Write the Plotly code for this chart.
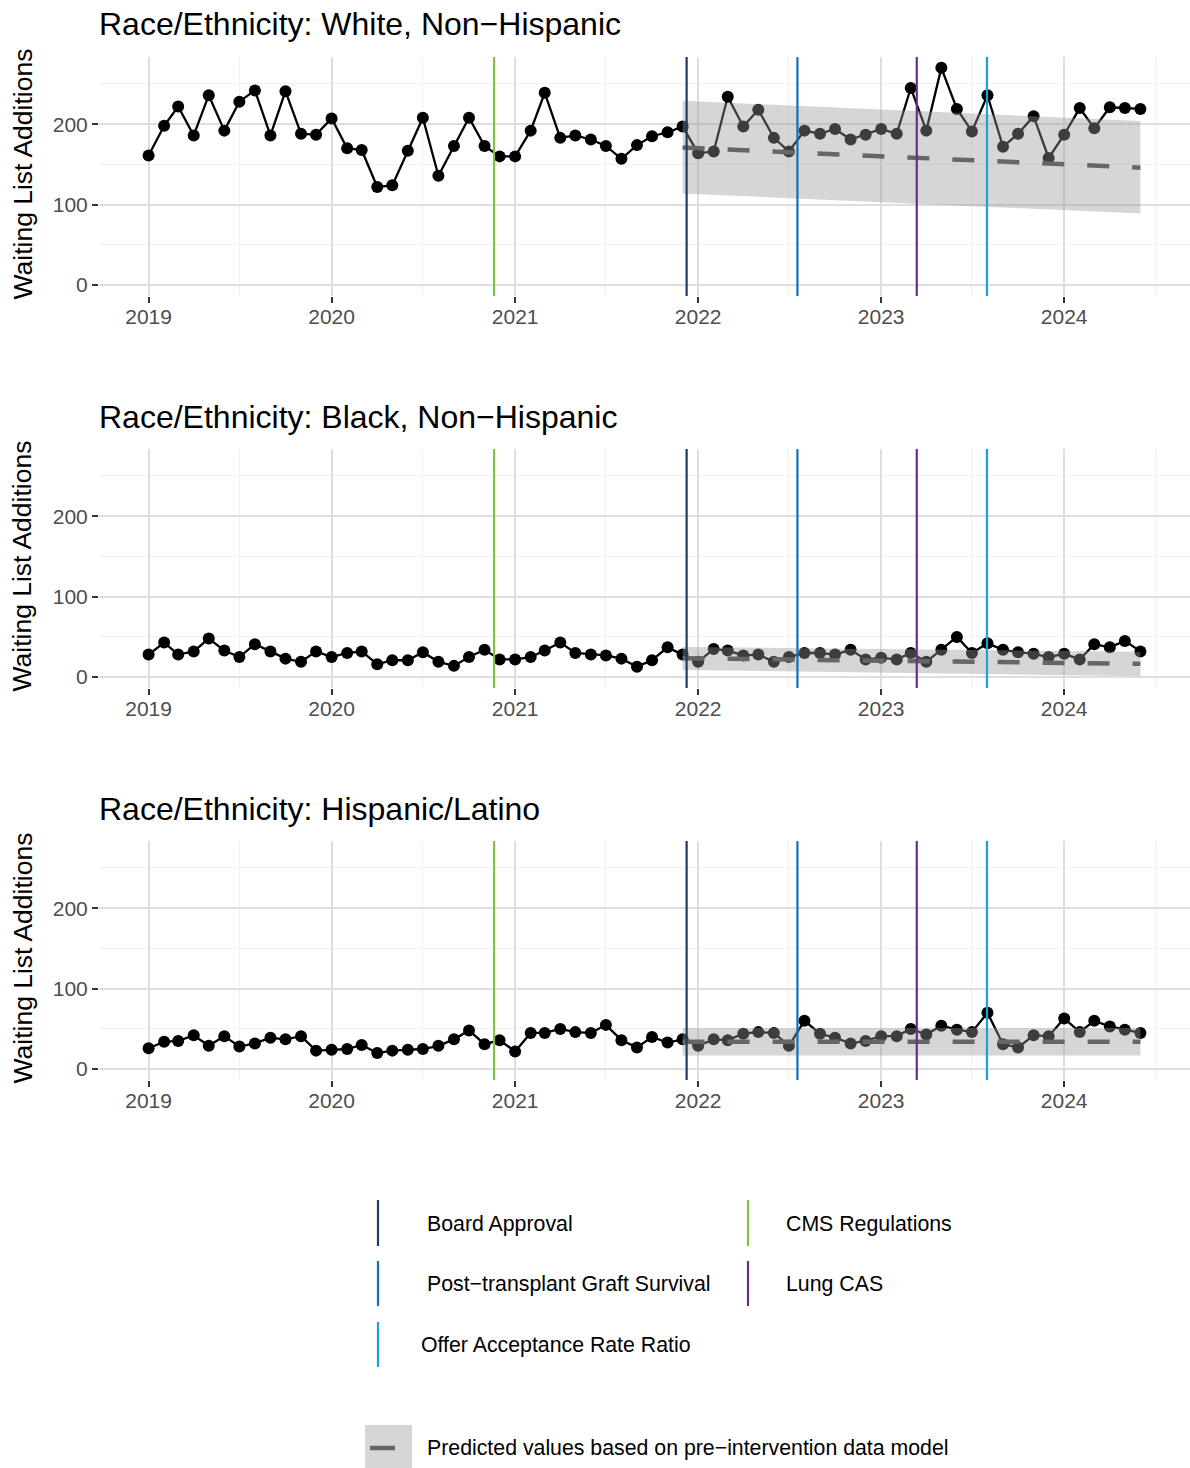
import pandas as pd
import plotly.graph_objects as go

# ---------------- data ----------------
months = pd.date_range("2019-01-01", "2024-06-01", freq="MS")

panel_titles = [
    "Race/Ethnicity: White, Non\u2212Hispanic",
    "Race/Ethnicity: Black, Non\u2212Hispanic",
    "Race/Ethnicity: Hispanic/Latino",
]

white = [161, 198, 222, 186, 236, 192, 228, 242, 186, 241, 188, 187,
         207, 170, 168, 122, 124, 167, 208, 136, 173, 208, 173, 160,
         160, 192, 239, 183, 186, 181, 173, 157, 174, 185, 190, 197,
         164, 166, 234, 197, 218, 183, 166, 192, 188, 194, 181, 187,
         194, 188, 245, 192, 270, 219, 191, 236, 172, 188, 210, 158,
         187, 220, 195, 221, 220, 219]

black = [28, 43, 28, 32, 48, 33, 25, 41, 32, 23, 19, 32,
         25, 30, 32, 16, 21, 21, 31, 19, 14, 25, 34, 22,
         22, 25, 33, 43, 30, 28, 27, 23, 13, 21, 37, 28,
         19, 35, 33, 27, 28, 19, 25, 30, 30, 28, 34, 22,
         24, 22, 30, 19, 34, 50, 30, 42, 34, 31, 29, 25,
         29, 22, 41, 37, 45, 32]

hispanic = [26, 34, 35, 42, 29, 41, 28, 32, 39, 37, 41, 23,
            24, 25, 30, 20, 23, 24, 25, 29, 37, 48, 31, 36,
            22, 45, 45, 50, 46, 45, 55, 36, 27, 40, 33, 37,
            29, 37, 36, 44, 46, 45, 29, 60, 44, 39, 32, 35,
            41, 41, 50, 43, 54, 49, 46, 70, 31, 27, 42, 41,
            63, 46, 60, 53, 49, 45]

series = [white, black, hispanic]

# predicted (pre-intervention model) line and interval, start/end values
pred_dates = ["2021-12-01", "2024-06-01"]
pred_fit = [[171, 146], [23.5, 16.5], [34, 34]]
pred_upper = [[229, 204], [37.5, 31.5], [51, 51]]
pred_lower = [[114, 89], [9, 1], [17, 17]]

# intervention dates
events = ["Board Approval", "CMS Regulations", "Post\u2212transplant Graft Survival",
          "Lung CAS", "Offer Acceptance Rate Ratio"]
event_dates = ["2021-12-09", "2020-11-20", "2022-07-18", "2023-03-13", "2023-07-31"]
event_colors = ["#1B3F6B", "#7DC242", "#0E70BE", "#6A2C8A", "#18A3DC"]

y_ticks = [0, 100, 200]
y_minor = [50, 150, 250]

# ---------------- layout helpers ----------------
W, H = 1190, 1468
FONT = "Liberation Sans, Arial, Helvetica, sans-serif"


def px_x(p):
    return p / W


def px_y(p):
    return 1 - p / H


panel_px = [(57, 296), (449, 688), (841, 1080)]  # top, bottom in pixels
title_px = [24, 417, 809]

span = months[-1] - months[0]
x_range = [months[0] - 0.05 * span, months[-1] + 0.05 * span]
all_vals = white + black + hispanic + [v for p in pred_upper for v in p] + [v for p in pred_lower for v in p]
ymin, ymax = min(0, min(all_vals)), max(all_vals)
yr = ymax - ymin
y_range = [ymin - 0.05 * yr, ymax + 0.05 * yr]

fig = go.Figure()
shapes = []
annotations = []

for i in range(3):
    xa = "x" if i == 0 else f"x{i+1}"
    ya = "y" if i == 0 else f"y{i+1}"
    # observed data
    fig.add_trace(go.Scatter(
        x=months, y=series[i], mode="lines+markers",
        line=dict(color="black", width=2.3),
        marker=dict(color="black", size=12),
        xaxis=xa, yaxis=ya, showlegend=False, hoverinfo="x+y"))
    # prediction interval ribbon (drawn above the data, semi-transparent)
    fig.add_trace(go.Scatter(
        x=[pred_dates[0], pred_dates[1], pred_dates[1], pred_dates[0], pred_dates[0]],
        y=[pred_upper[i][0], pred_upper[i][1], pred_lower[i][1], pred_lower[i][0], pred_upper[i][0]],
        mode="lines", fill="toself", fillcolor="rgba(153,153,153,0.4)",
        line=dict(width=0), xaxis=xa, yaxis=ya, showlegend=False, hoverinfo="skip"))
    # predicted values
    fig.add_trace(go.Scatter(
        x=pred_dates, y=pred_fit[i], mode="lines",
        line=dict(color="#666666", width=4.5, dash="22px,23px"),
        xaxis=xa, yaxis=ya, showlegend=False, hoverinfo="skip"))

    top, bot = panel_px[i]
    axis_common = dict(showline=False, zeroline=False, ticks="outside", ticklen=6,
                       tickwidth=2, tickcolor="#333333",
                       tickfont=dict(family=FONT, size=21, color="#4d4d4d"),
                       gridcolor="#dedede", gridwidth=2)
    fig.layout[("xaxis" if i == 0 else f"xaxis{i+1}")] = dict(
        axis_common, domain=[px_x(99), 1.0], range=x_range, type="date",
        tick0="2019-01-01", dtick="M12", tickformat="%Y", ticklabelstandoff=-4,
        minor=dict(dtick="M6", tick0="2019-01-01", showgrid=True,
                   gridcolor="#f1f1f1", gridwidth=1, ticks=""),
        anchor=ya, fixedrange=True)
    fig.layout[("yaxis" if i == 0 else f"yaxis{i+1}")] = dict(
        axis_common, domain=[px_y(bot), px_y(top)], range=y_range,
        tickvals=y_ticks, ticktext=[str(v) for v in y_ticks],
        minor=dict(tickvals=y_minor, showgrid=True, gridcolor="#f1f1f1",
                   gridwidth=1, ticks=""),
        anchor=xa, fixedrange=True)

    # intervention lines
    for d, c in zip(event_dates, event_colors):
        shapes.append(dict(type="line", xref=xa, yref=f"{ya} domain",
                           x0=d, x1=d, y0=0, y1=1, layer="above",
                           line=dict(color=c, width=2.2)))

    # panel title
    annotations.append(dict(text=panel_titles[i], xref="paper", yref="paper",
                            x=px_x(97), y=px_y(title_px[i]), xanchor="left",
                            yanchor="middle", showarrow=False,
                            font=dict(family=FONT, size=32, color="black")))
    # y-axis title
    annotations.append(dict(text="Waiting List Additions", xref="paper", yref="paper",
                            x=px_x(22), y=px_y((top + bot) / 2 - 2), xanchor="center",
                            yanchor="middle", textangle=-90, showarrow=False,
                            font=dict(family=FONT, size=26.5, color="black")))

# ---------------- custom legend ----------------
legend_items = [
    (0, 378, 1200, 1246, 425, 1224),
    (1, 748, 1200, 1246, 784, 1224),
    (2, 378, 1261, 1306, 425, 1284),
    (3, 748, 1261, 1306, 784, 1284),
    (4, 378, 1322, 1367, 419, 1345),
]
for idx, lx, ly0, ly1, tx, ty in legend_items:
    shapes.append(dict(type="line", xref="paper", yref="paper",
                       x0=px_x(lx), x1=px_x(lx), y0=px_y(ly0), y1=px_y(ly1),
                       line=dict(color=event_colors[idx], width=2.2)))
    annotations.append(dict(text=events[idx], xref="paper", yref="paper",
                            x=px_x(tx), y=px_y(ty), xanchor="left", yanchor="middle",
                            showarrow=False, font=dict(family=FONT, size=21.3, color="black")))

shapes.append(dict(type="rect", xref="paper", yref="paper",
                   x0=px_x(365), x1=px_x(412), y0=px_y(1468), y1=px_y(1425),
                   fillcolor="#d6d6d6", line=dict(width=0)))
shapes.append(dict(type="line", xref="paper", yref="paper",
                   x0=px_x(370), x1=px_x(395), y0=px_y(1448), y1=px_y(1448),
                   line=dict(color="#666666", width=4.5)))
annotations.append(dict(text="Predicted values based on pre\u2212intervention data model",
                        xref="paper", yref="paper", x=px_x(425), y=px_y(1448),
                        xanchor="left", yanchor="middle", showarrow=False,
                        font=dict(family=FONT, size=21.3, color="black")))

fig.update_layout(
    width=W, height=H,
    margin=dict(l=0, r=0, t=0, b=0),
    paper_bgcolor="white", plot_bgcolor="white",
    showlegend=False,
    shapes=shapes, annotations=annotations,
    font=dict(family=FONT),
)

fig.write_html("out.html", config={"displayModeBar": False},
               post_script="document.body.style.margin='0';")
